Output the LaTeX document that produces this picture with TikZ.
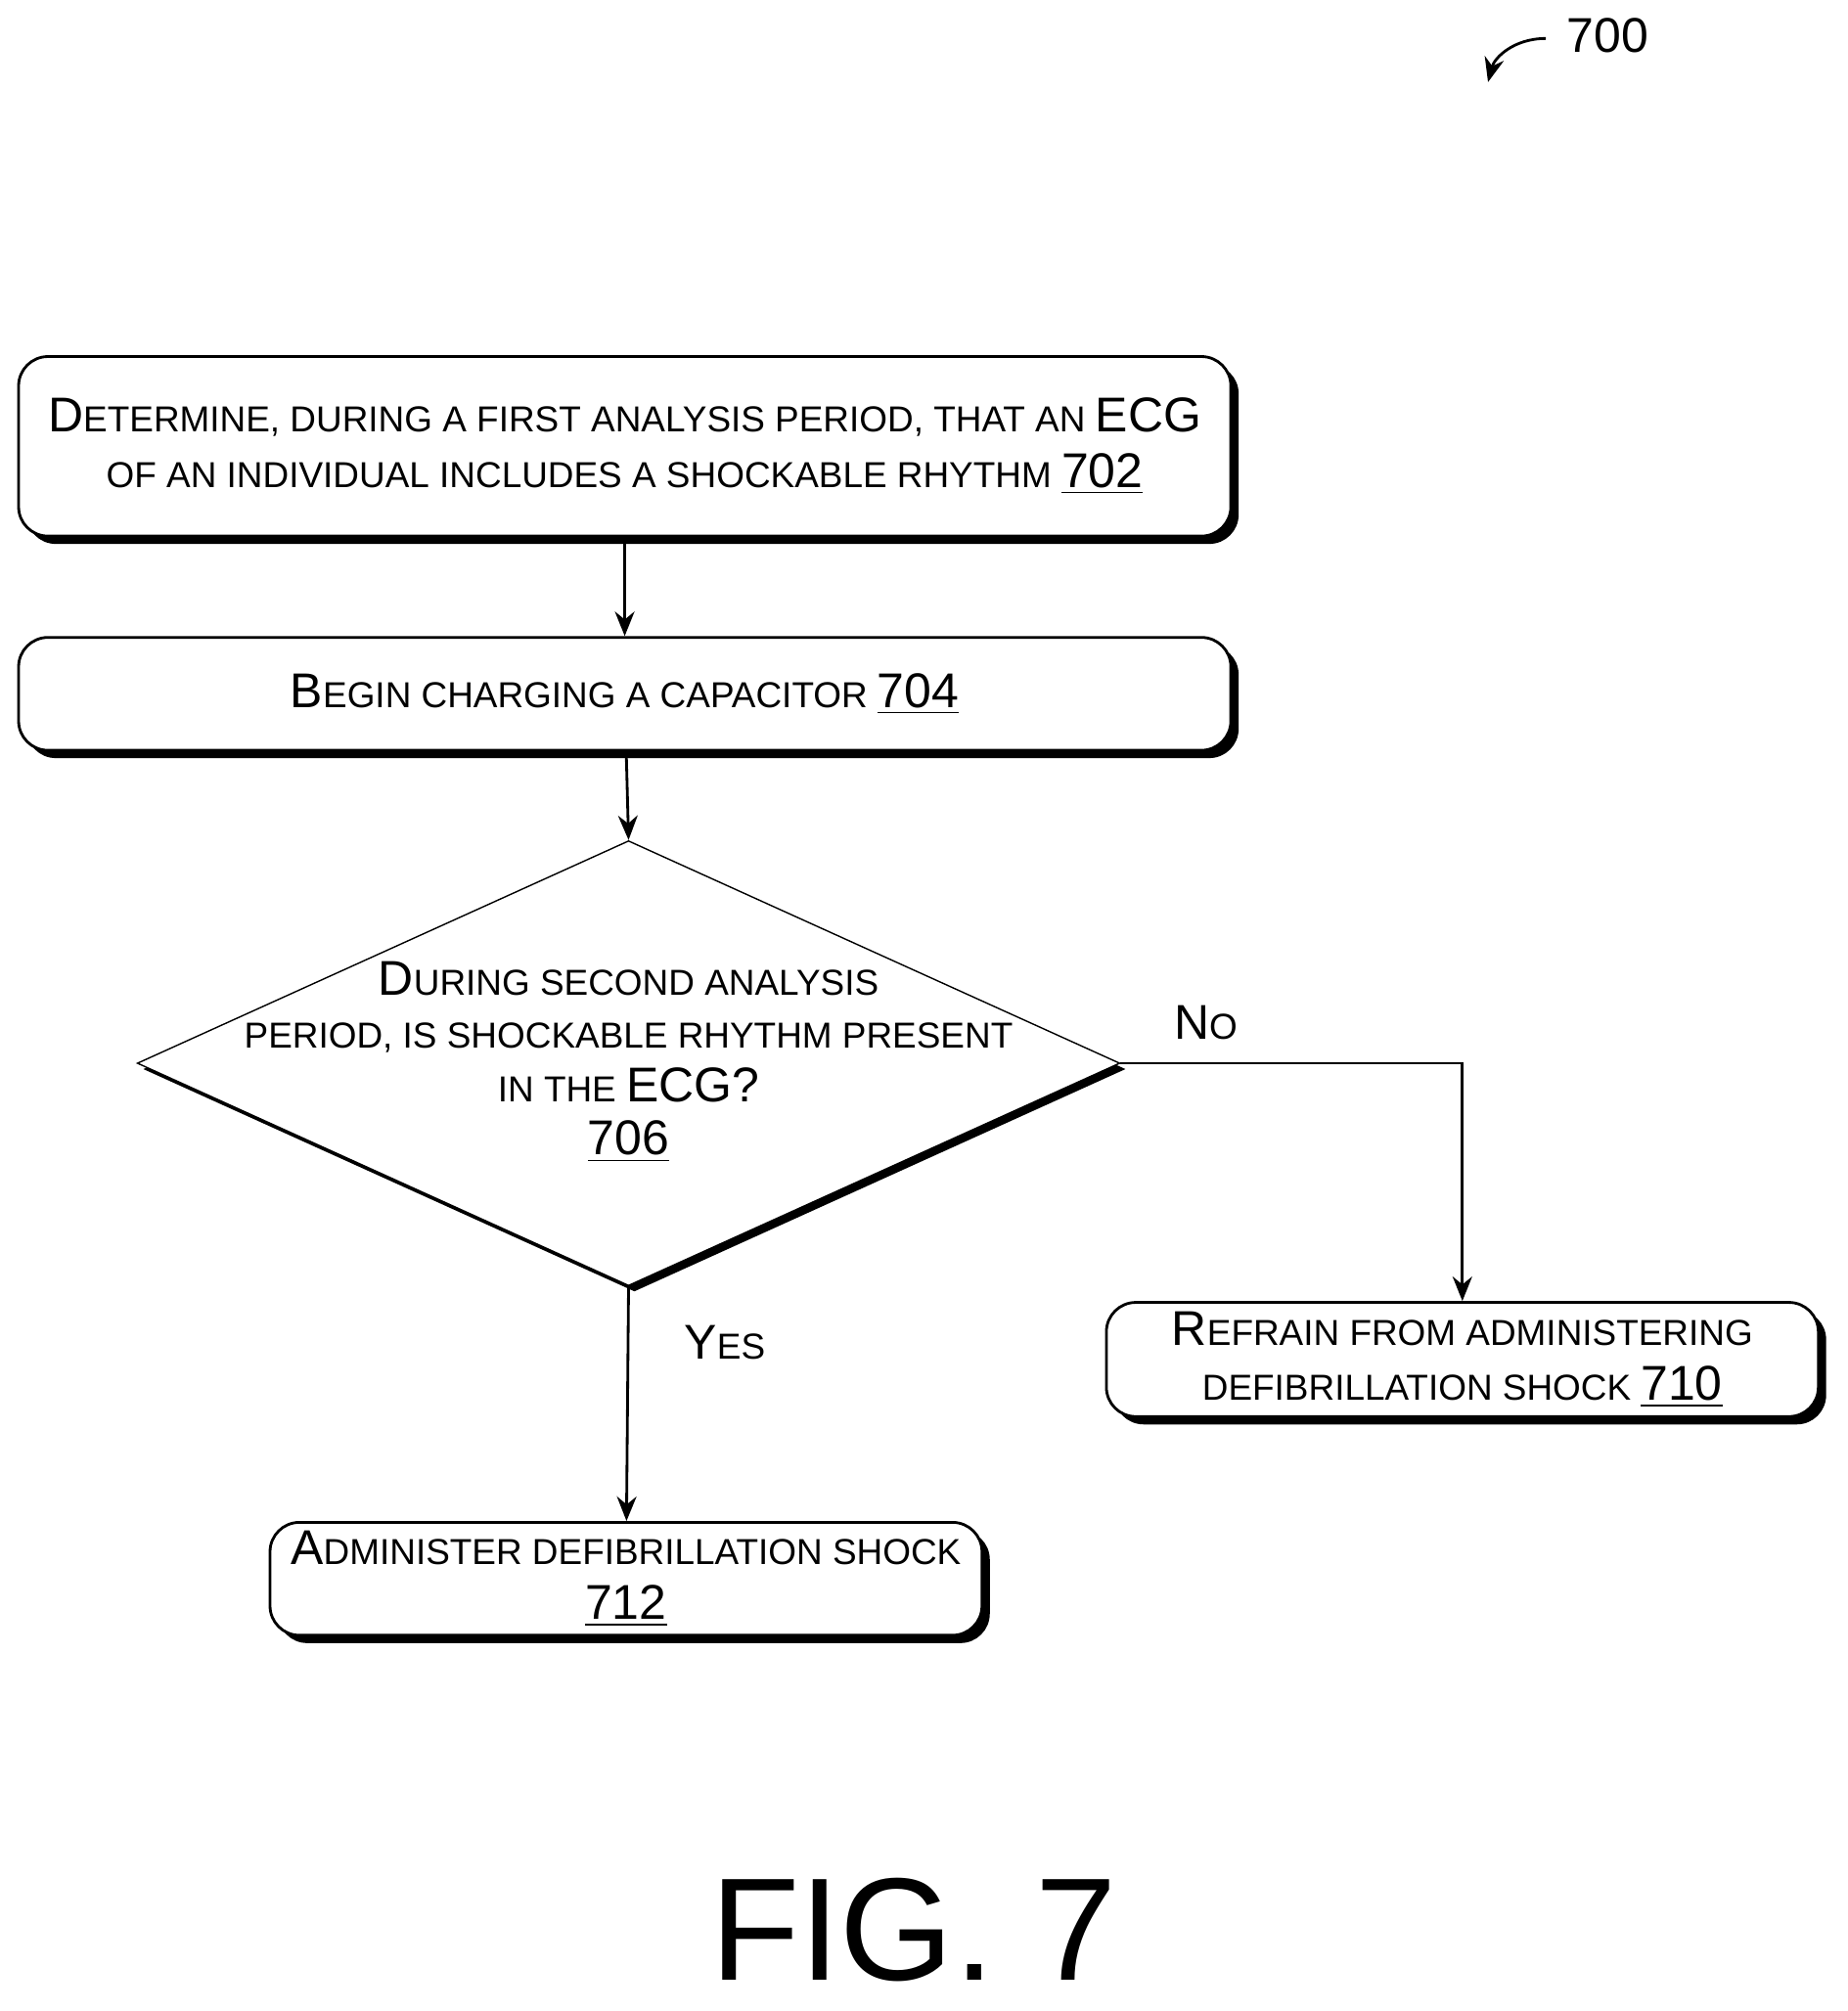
\documentclass[tikz,border=0pt]{standalone}
\usepackage{fontspec}
\setmainfont{Liberation Sans}
\usetikzlibrary{shapes.geometric,shadows,arrows.meta}
\newcommand{\C}[1]{{\fontsize{14.2}{16}\selectfont #1}}
\newcommand{\U}[1]{\C{\underline{#1}}}
\begin{document}
\begin{tikzpicture}[x=0.01311cm,y=-0.01311cm,
  box/.style={draw,thick,fill=white,rounded corners=0.3cm,align=center,inner sep=0,
    font=\fontsize{10.5}{16}\selectfont,
    drop shadow={shadow xshift=0.08cm,shadow yshift=-0.08cm,fill=black,opacity=1}},
  arr/.style={thick,-{Stealth[length=0.25cm,width=0.2cm]}},
  lab/.style={font=\fontsize{14.2}{18}\selectfont}]
\useasboundingbox (0,0) rectangle (1440,1568);
\node[box,minimum width=945*0.01311cm,minimum height=140*0.01311cm] (b702) at (487,348)
 {\C{D}ETERMINE, DURING A FIRST ANALYSIS PERIOD, THAT AN \C{ECG}\\OF AN INDIVIDUAL INCLUDES A SHOCKABLE RHYTHM \U{702}};
\node[box,minimum width=945*0.01311cm,minimum height=88*0.01311cm] (b704) at (487,541)
 {\C{B}EGIN CHARGING A CAPACITOR \U{704}};
\node[diamond,draw,fill=white,inner sep=0,minimum width=766*0.01311cm,minimum height=347*0.01311cm,
  drop shadow={shadow xshift=0.06cm,shadow yshift=-0.06cm,fill=black,opacity=1}] (d706) at (490,829) {};
\node[align=center,font=\fontsize{10.5}{15.5}\selectfont] (t706) at (490,828)
 {\C{D}URING SECOND ANALYSIS\\PERIOD, IS SHOCKABLE RHYTHM PRESENT\\IN THE \C{ECG?}\\\U{706}};
\node[box,minimum width=555*0.01311cm,minimum height=89*0.01311cm] (b710) at (1140,1060)
 {\C{R}EFRAIN FROM ADMINISTERING\\DEFIBRILLATION SHOCK \U{710}};
\node[box,minimum width=555*0.01311cm,minimum height=88*0.01311cm] (b712) at (488,1231)
 {\C{A}DMINISTER DEFIBRILLATION SHOCK\\\U{712}};
\draw[arr] (b702) -- (b704);
\draw[arr] (b704) -- (d706.north);
\draw[arr] (d706.south) -- (b712);
\draw[arr] (d706.east) -| (b710.north);
\node[lab] (no) at (940,797) {\C{N}\fontsize{10.5}{16}\selectfont O};
\node[lab] (yes) at (565,1047) {\C{Y}\fontsize{10.5}{16}\selectfont ES};
\node[lab,anchor=west] (n700) at (1212,28) {700};
\coordinate (c700) at (1205,30);
\draw[thick,-{Stealth[length=0.25cm,width=0.2cm]}] (c700) .. controls (1180,30) and (1165,45) .. (1160,64);
\node[font=\fontsize{42.5}{44}\selectfont] (fig) at (712,1505) {FIG. 7};
\end{tikzpicture}
\end{document}
